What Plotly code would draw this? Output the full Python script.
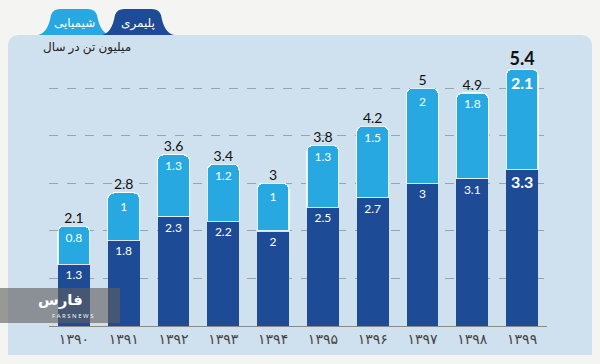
import plotly.graph_objects as go

years = ["۱۳۹۰", "۱۳۹۱", "۱۳۹۲", "۱۳۹۳", "۱۳۹۴", "۱۳۹۵", "۱۳۹۶", "۱۳۹۷", "۱۳۹۸", "۱۳۹۹"]
polymer = [1.3, 1.8, 2.3, 2.2, 2, 2.5, 2.7, 3, 3.1, 3.3]
chemical = [0.8, 1, 1.3, 1.2, 1, 1.3, 1.5, 2, 1.8, 2.1]
totals = [2.1, 2.8, 3.6, 3.4, 3, 3.8, 4.2, 5, 4.9, 5.4]

DARK = "#1d4b96"
LIGHT = "#27a8e0"
PANEL = "#cfe0ee"
BG = "#f4f4f2"

L, R, T, B = 49, 53, 55, 38
W, H = 600, 364
PW, PH = W - L - R, H - T - B


def px(x):
    return (x - L) / PW


def py(y):
    return (H - B - y) / PH


def fs(i, big, small):
    return big if i == len(years) - 1 else small


fig = go.Figure()
fig.add_trace(go.Bar(
    x=years, y=polymer, name="پلیمری", marker=dict(color=DARK, line=dict(width=0)),
    text=[str(v) for v in polymer], textposition="inside", insidetextanchor="end",
    textangle=0,
    textfont=dict(color="white", size=[fs(i, 16, 12) for i in range(len(years))],
                  family="Lato, Open Sans, sans-serif",
                  weight=[fs(i, "bold", "normal") for i in range(len(years))]),
))
fig.add_trace(go.Bar(
    x=years, y=chemical, name="شیمیایی",
    marker=dict(color=LIGHT, line=dict(width=1.2, color="rgba(255,255,255,0.85)")),
    text=[str(v) for v in chemical], textposition="inside", insidetextanchor="end",
    textangle=0,
    textfont=dict(color="white", size=[fs(i, 16, 12) for i in range(len(years))],
                  family="Lato, Open Sans, sans-serif",
                  weight=[fs(i, "bold", "normal") for i in range(len(years))]),
))
fig.add_trace(go.Scatter(
    x=years, y=totals, mode="text", text=[str(v) for v in totals],
    textposition="top center", cliponaxis=False, hoverinfo="skip",
    textfont=dict(color="#111", size=[fs(i, 18, 14) for i in range(len(years))],
                  family="Lato, Open Sans, sans-serif",
                  weight=[fs(i, "bold", "normal") for i in range(len(years))]),
    showlegend=False,
))

shapes = []
# panel (rounded rectangle)
x0, x1, y0, y1, r = 8, 592, 35, 355, 12
path = (f"M {px(x0 + r)} {py(y0)} L {px(x1 - r)} {py(y0)} Q {px(x1)} {py(y0)} {px(x1)} {py(y0 + r)} "
        f"L {px(x1)} {py(y1)} L {px(x0)} {py(y1)} L {px(x0)} {py(y0 + r)} "
        f"Q {px(x0)} {py(y0)} {px(x0 + r)} {py(y0)} Z")
shapes.append(dict(type="path", xref="paper", yref="paper", path=path,
                   fillcolor=PANEL, line=dict(width=0), layer="below"))


def tab(xa, xb, color):
    yb, yt = 35, 9
    s = 12
    p = (f"M {px(xa - s)} {py(yb)} Q {px(xa - 2)} {py(yb - 2)} {px(xa + 1)} {py(yt + 6)} "
         f"Q {px(xa + 3)} {py(yt)} {px(xa + 10)} {py(yt)} L {px(xb - 10)} {py(yt)} "
         f"Q {px(xb - 3)} {py(yt)} {px(xb - 1)} {py(yt + 6)} Q {px(xb + 2)} {py(yb - 2)} {px(xb + s)} {py(yb)} Z")
    return dict(type="path", xref="paper", yref="paper", path=p,
                fillcolor=color, line=dict(width=0), layer="below")


shapes.append(tab(50, 98, LIGHT))
shapes.append(tab(114, 162, DARK))
# watermark box
shapes.append(dict(type="rect", xref="paper", yref="paper", x0=px(0), x1=px(120),
                   y0=py(323), y1=py(288), fillcolor="rgba(95,95,95,0.62)",
                   line=dict(width=0), layer="above"))

annotations = [
    dict(xref="paper", yref="paper", x=px(74), y=py(22), text="شیمیایی", showarrow=False,
         font=dict(color="white", size=12, family="Noto Sans, DejaVu Sans"), xanchor="center", yanchor="middle"),
    dict(xref="paper", yref="paper", x=px(138), y=py(22), text="پلیمری", showarrow=False,
         font=dict(color="white", size=12, family="Noto Sans, DejaVu Sans"), xanchor="center", yanchor="middle"),
    dict(xref="paper", yref="paper", x=px(133), y=py(46), text="میلیون تن در سال", showarrow=False,
         font=dict(color="#222", size=12, family="Noto Sans, DejaVu Sans"), xanchor="right", yanchor="middle"),
    dict(xref="paper", yref="paper", x=px(60), y=py(299), text="<b>فارس</b>", showarrow=False,
         font=dict(color="white", size=15, family="Noto Sans, DejaVu Sans"), xanchor="center", yanchor="middle"),
    dict(xref="paper", yref="paper", x=px(72), y=py(316), text="F A R S N E W S", showarrow=False,
         font=dict(color="white", size=6, family="Open Sans"), xanchor="center", yanchor="middle"),
]

fig.update_layout(
    width=W, height=H, margin=dict(l=L, r=R, t=T, b=B),
    paper_bgcolor=BG, plot_bgcolor="rgba(0,0,0,0)",
    barmode="stack", bargap=0.36, barcornerradius=6,
    showlegend=False, shapes=shapes, annotations=annotations,
    uniformtext=dict(mode=False),
    xaxis=dict(showgrid=False, showline=True, linecolor="#8a8a8a", linewidth=1,
               ticks="", tickfont=dict(size=14, color="#444", family="DejaVu Sans"),
               fixedrange=True),
    yaxis=dict(range=[0, 5.7], dtick=1, showgrid=True, gridcolor="#9aa4ad", griddash="dash",
               gridwidth=1, showticklabels=False, zeroline=False, fixedrange=True),
)

fig.write_html("out.html", config={"displayModeBar": False},
               post_script="document.body.style.margin='0';")
